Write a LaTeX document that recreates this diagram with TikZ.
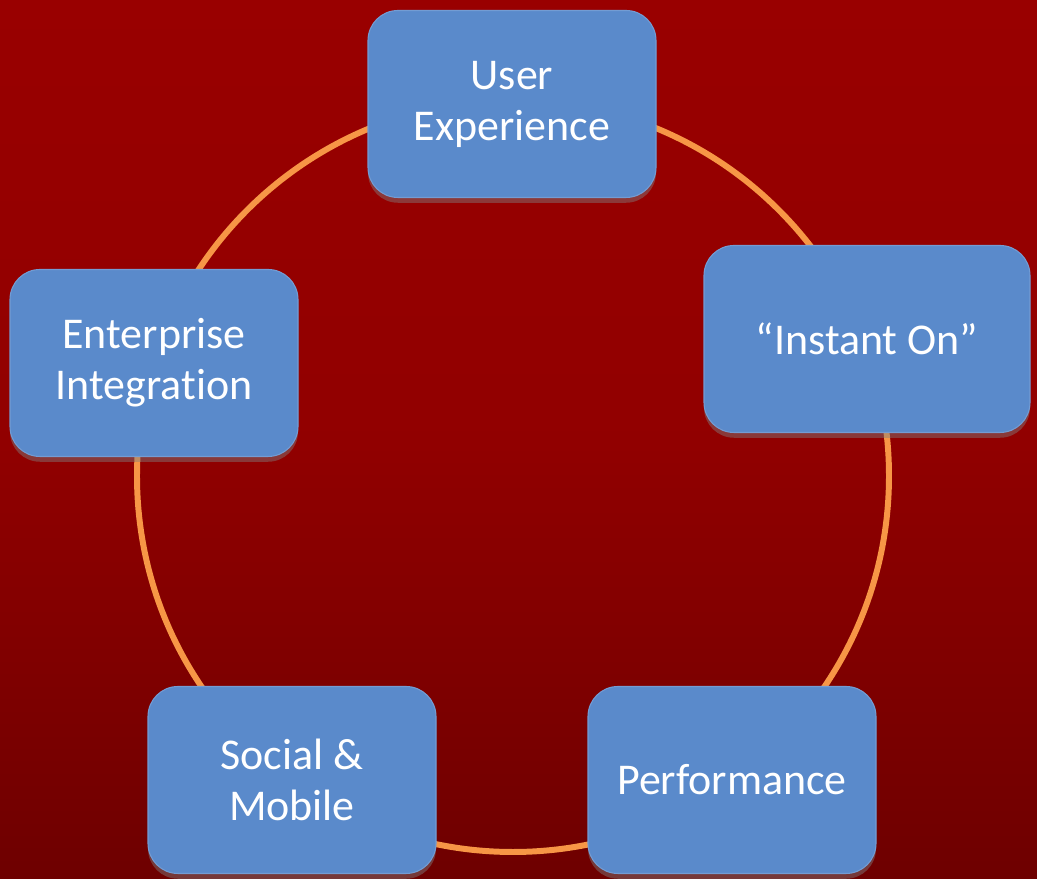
\documentclass[tikz,border=0pt]{standalone}
\usepackage{fontspec}
\setmainfont[Ligatures=NoCommon]{Carlito}
\usetikzlibrary{shadows}
\definecolor{bgred}{HTML}{990000}
\definecolor{bgdark}{HTML}{6E0000}
\definecolor{boxblue}{HTML}{5A8ACB}
\definecolor{ringorange}{HTML}{F79646}

\begin{document}
\begin{tikzpicture}[thick,
    stage/.style={rectangle,rounded corners=0.6cm,fill=boxblue,draw=boxblue!85!white,line width=0.6pt,
        minimum width=5.76cm,minimum height=3.74cm,align=center,text=white,
        font=\fontsize{25}{29}\selectfont,
        drop shadow={opacity=0.45,shadow xshift=0pt,shadow yshift=-3pt}},
    ring/.style={draw=ringorange,line width=3.4pt}]
    % background
    \shade[top color=bgred,bottom color=bgdark,middle color=bgred!95!black] (0,0) rectangle (20.74,17.58);
    \useasboundingbox (0,0) rectangle (20.74,17.58);

    \coordinate (c) at (10.26,8.06);
    \draw[ring] (c) circle (7.52);

    \node[stage] (ux) at (10.24,15.5) {User\\Experience};
    \node[stage,minimum width=6.52cm] (io) at (17.34,10.8) {\textquotedblleft Instant On\textquotedblright};
    \node[stage] (perf) at (14.64,1.98) {Performance};
    \node[stage] (social) at (5.84,1.98) {Social \&\\Mobile};
    \node[stage] (ent) at (3.08,10.32) {Enterprise\\Integration};
\end{tikzpicture}
\end{document}
